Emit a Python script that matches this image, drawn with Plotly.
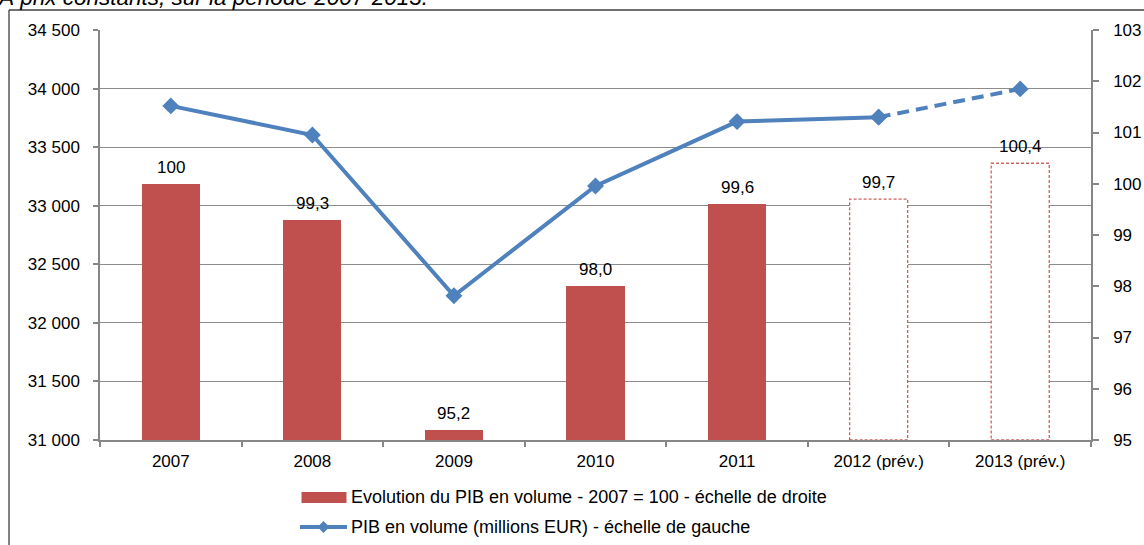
import plotly.graph_objects as go

# ---- data ----
categories = ["2007", "2008", "2009", "2010", "2011", "2012 (prév.)", "2013 (prév.)"]
indice_volume = [100.0, 99.3, 95.2, 98.0, 99.6, 99.7, 100.4]          # right axis (bars)
pib_volume = [33852, 33604, 32231, 33168, 33718, 33756, 33997]          # left axis (line)
is_forecast = [False, False, False, False, False, True, True]

left_ticks = [31000, 31500, 32000, 32500, 33000, 33500, 34000, 34500]
right_ticks = [95, 96, 97, 98, 99, 100, 101, 102, 103]

legend_bar = "Evolution du PIB en volume - 2007 = 100 - échelle de droite"
legend_line = "PIB en volume (millions EUR) - échelle de gauche"
title_text = "À prix constants, sur la période 2007-2013."

# ---- styles ----
RED = "#C0504D"
BLUE = "#4F81BD"
GRAY = "#8C8C8C"
FONT = "Liberation Sans, Arial, sans-serif"
BAR_W = 0.41
TICK_FS = 17

# plot area in pixels
L, R, T, B = 100, 1091, 30, 440
W, H = 1144, 545
def px(xp):
    return (xp - L) / (R - L)
def py(yp):
    return (B - yp) / (B - T)

fig = go.Figure()

# bars (right scale)
fig.add_trace(go.Bar(
    x=categories, y=indice_volume,
    width=BAR_W,
    marker=dict(color=["white" if f else RED for f in is_forecast], line=dict(width=0)),
    yaxis="y", showlegend=False, hoverinfo="x+y",
))

# line (left scale): solid for actual, dashed for forecast
last_actual = max(i for i, f in enumerate(is_forecast) if not f) + 1  # first forecast point
fig.add_trace(go.Scatter(
    x=categories[:last_actual + 1], y=pib_volume[:last_actual + 1],
    mode="lines+markers", yaxis="y2",
    line=dict(color=BLUE, width=4),
    marker=dict(symbol="diamond", size=13, color=BLUE),
    showlegend=False,
))
fig.add_trace(go.Scatter(
    x=categories[last_actual:], y=pib_volume[last_actual:],
    mode="lines+markers", yaxis="y2",
    line=dict(color=BLUE, width=4, dash="12px,7px"),
    marker=dict(symbol="diamond", size=13, color=BLUE),
    showlegend=False,
))

shapes = []
annotations = []

# dashed outlines for forecast bars
for i, (v, f) in enumerate(zip(indice_volume, is_forecast)):
    if f:
        shapes.append(dict(type="rect", xref="x", yref="y",
                           x0=i - BAR_W / 2, x1=i + BAR_W / 2, y0=right_ticks[0], y1=v,
                           line=dict(color="#D0605C", width=1.3, dash="3px,2px"),
                           fillcolor="rgba(0,0,0,0)", layer="above"))

# data labels (x given as category index)
for i, v in enumerate(indice_volume):
    lab = "100" if v == 100 else f"{v:.1f}".replace(".", ",")
    annotations.append(dict(x=i, y=v, xref="x", yref="y", text=lab, showarrow=False,
                            yanchor="bottom", yshift=5, font=dict(size=17, color="#000", family=FONT)))

# frame lines (outer border of chart object)
shapes.append(dict(type="line", xref="paper", yref="paper", x0=px(9), x1=px(W + 5), y0=py(10), y1=py(10),
                   line=dict(color="#404040", width=1.3)))
shapes.append(dict(type="line", xref="paper", yref="paper", x0=px(9), x1=px(9), y0=py(10), y1=py(H + 5),
                   line=dict(color="#404040", width=1.3)))

# custom legend
shapes.append(dict(type="rect", xref="paper", yref="paper", x0=px(301.5), x1=px(346.5), y0=py(492), y1=py(503),
                   fillcolor=RED, line=dict(width=0)))
annotations.append(dict(x=px(349), y=py(497.5), xref="paper", yref="paper", text=legend_bar, showarrow=False,
                        xanchor="left", yanchor="middle", font=dict(size=18, color="#000", family=FONT)))
shapes.append(dict(type="line", xref="paper", yref="paper", x0=px(300), x1=px(347), y0=py(527), y1=py(527),
                   line=dict(color=BLUE, width=4)))
shapes.append(dict(type="path", xref="paper", yref="paper", xsizemode="pixel", ysizemode="pixel",
                   xanchor=px(323.5), yanchor=py(527), path="M0,6 L6,0 L0,-6 L-6,0 Z",
                   fillcolor=BLUE, line=dict(width=0)))
annotations.append(dict(x=px(349), y=py(527), xref="paper", yref="paper", text=legend_line, showarrow=False,
                        xanchor="left", yanchor="middle", font=dict(size=18, color="#000", family=FONT)))

# cropped title at the top
annotations.append(dict(x=px(-4), y=py(12), xref="paper", yref="paper", text=f"<i>{title_text}</i>",
                        showarrow=False, xanchor="left", yanchor="bottom",
                        font=dict(size=22.5, color="#000", family=FONT)))

axis_common = dict(showline=True, linecolor="#868686", linewidth=1.5, ticks="outside",
                   tickcolor="#868686", tickwidth=1.5, automargin=False, tickfont=dict(size=TICK_FS))

fig.update_layout(
    width=W, height=H, autosize=False,
    margin=dict(l=L, r=W - R, t=T, b=H - B, pad=0, autoexpand=False),
    paper_bgcolor="white", plot_bgcolor="white",
    separators=", ",
    font=dict(family=FONT, size=TICK_FS, color="#000"),
    bargap=0,
    xaxis=dict(type="category", categoryorder="array", categoryarray=categories,
               range=[-0.5, len(categories) - 0.5],
               tickson="boundaries", ticklen=5, showgrid=False, ticklabelstandoff=5, **axis_common),
    yaxis=dict(side="right", range=[right_ticks[0], right_ticks[-1]], tickvals=right_ticks,
               ticklen=6, showgrid=False, zeroline=False, ticklabelstandoff=11, **axis_common),
    yaxis2=dict(side="left", overlaying="y", anchor="x",
                range=[left_ticks[0], left_ticks[-1]], tickvals=left_ticks, tickformat=",d",
                ticklen=5, showgrid=True, gridcolor=GRAY, gridwidth=1.2, zeroline=False,
                ticklabelstandoff=10, **axis_common),
    shapes=shapes, annotations=annotations,
)

fig.write_html("out.html", config={"displayModeBar": False},
               post_script="document.body.style.margin='0';document.body.style.overflow='hidden';")
